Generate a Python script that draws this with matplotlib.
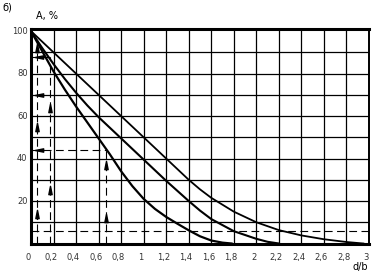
import matplotlib
matplotlib.use("Agg")
import matplotlib.pyplot as plt
from matplotlib.path import Path

plt.rcParams['font.family'] = ['Liberation Sans Narrow', 'DejaVu Sans']

# curves: A, % vs d/b
x_outer = [0, 0.2, 0.4, 0.6, 0.8, 1.0, 1.2, 1.3, 1.4, 1.5, 1.6, 1.8, 2.0, 2.2, 2.4, 2.6, 2.8, 2.95]
a_outer = [100, 90, 80, 70, 60, 50, 40, 35, 30, 25.5, 21.5, 15, 10, 6.3, 3.8, 2, 0.7, 0]

x_mid = [0, 0.1, 0.2, 0.3, 0.4, 0.5, 0.6, 0.8, 1.0, 1.2, 1.4, 1.5, 1.6, 1.8, 2.0, 2.1, 2.2]
a_mid = [100, 92, 84.5, 77.5, 71, 65, 59.5, 49.5, 39.5, 29.5, 20, 15.5, 11.5, 5.8, 2.2, 0.8, 0]

x_inner = [0, 0.1, 0.2, 0.3, 0.4, 0.5, 0.6, 0.7, 0.8, 0.9, 1.0, 1.1, 1.2, 1.3, 1.4, 1.5, 1.6, 1.7, 1.78]
a_inner = [100, 90.5, 81, 72.5, 64.5, 57, 49.5, 42, 34, 27, 21, 16.3, 12.5, 9.3, 6.2, 3.4, 1.4, 0.4, 0]

# dashed helper lines: (level, from, to)
h_dash = [(6, 0, 3), (44, 0, 0.67), (88, 0, 0.165)]
v_dash = [(0.05, 0, 95.5), (0.165, 0, 88), (0.67, 0, 44)]
up_arrows_x = [0.05, 0.05, 0.05, 0.165, 0.165, 0.67, 0.67]
up_arrows_y = [14, 55, 92, 25, 64, 12, 37]
left_arrows_x = [0.075, 0.075, 0.075]
left_arrows_y = [88, 70, 44]

xticks = [0, 0.2, 0.4, 0.6, 0.8, 1, 1.2, 1.4, 1.6, 1.8, 2, 2.2, 2.4, 2.6, 2.8, 3]
xlabels = ["0", "0,2", "0,4", "0,6", "0,8", "1", "1,2", "1,4", "1,6", "1,8",
           "2", "2,2", "2,4", "2,6", "2,8", "3"]
ylabels = [20, 40, 60, 80, 100]

fig = plt.figure(figsize=(3.75, 2.77), dpi=100)
ax = fig.add_axes([31 / 375, 1 - 243.5 / 277, 338 / 375, 214.5 / 277])
ax.set_xlim(0, 3)
ax.set_ylim(0, 101)

for v in [i * 0.2 for i in range(1, 15)]:
    ax.axvline(v, color='black', lw=0.9, zorder=1)
for h in range(10, 100, 10):
    ax.axhline(h, color='black', lw=0.9, zorder=1)

ax.plot(x_outer, a_outer, color='black', lw=1.3, zorder=3)
ax.plot(x_mid, a_mid, color='black', lw=1.5, zorder=3)
ax.plot(x_inner, a_inner, color='black', lw=1.6, zorder=3)

for y, x0, x1 in h_dash:
    ax.plot([x0, x1], [y, y], color='black', lw=0.8, dashes=(7, 4), zorder=2)
for x, y0, y1 in v_dash:
    ax.plot([x, x], [y0, y1], color='black', lw=0.8, dashes=(7, 4), zorder=2)

up = Path([(-0.4, -1), (0.4, -1), (0, 1), (-0.4, -1)],
          [Path.MOVETO, Path.LINETO, Path.LINETO, Path.CLOSEPOLY])
left = Path([(1, -0.4), (1, 0.4), (-1, 0), (1, -0.4)],
            [Path.MOVETO, Path.LINETO, Path.LINETO, Path.CLOSEPOLY])
ax.plot(up_arrows_x, up_arrows_y, ls='none', marker=up, ms=6, color='black', zorder=4)
ax.plot(left_arrows_x, left_arrows_y, ls='none', marker=left, ms=6, color='black', zorder=4)

for s in ['left', 'bottom', 'top']:
    ax.spines[s].set_linewidth(2.2)
ax.spines['right'].set_linewidth(1.4)

ax.set_xticks([])
ax.set_yticks([])
for x, lab in zip(xticks, xlabels):
    ax.text(x - 0.025, -4.5, lab, fontsize=6, ha='center', va='top', color='#333333')
for y in ylabels:
    ax.text(-0.03, y, str(y), fontsize=6, ha='right', va='center', color='#333333')

fig.text(360 / 375, 1 - 267 / 277, "d/b", fontsize=7, ha='center', va='center')
fig.text(36 / 375, 1 - 16 / 277, "A, %", fontsize=7, ha='left', va='center')
fig.text(2 / 375, 1 - 8 / 277, "б)", fontsize=7, ha='left', va='center')

fig.savefig("out.png", dpi=100)
